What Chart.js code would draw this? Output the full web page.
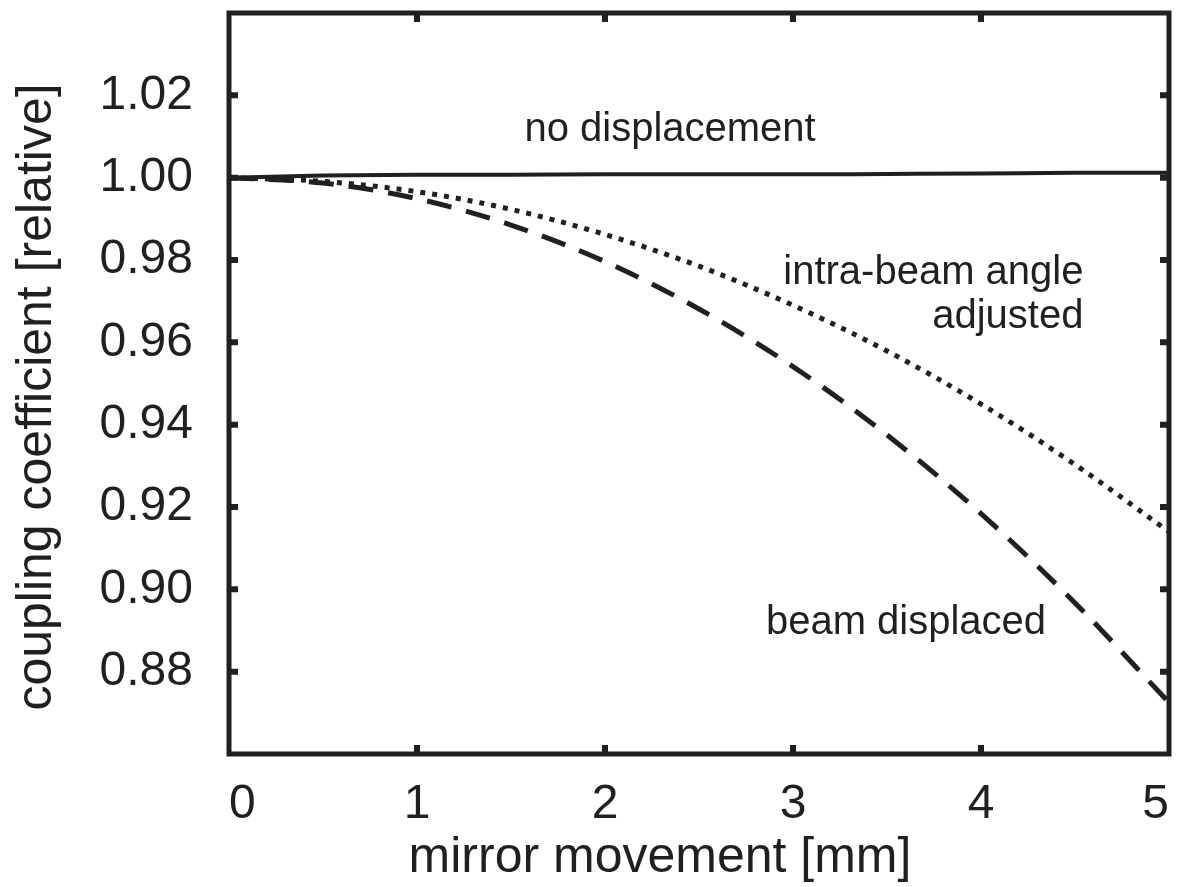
<!DOCTYPE html>
<html>
<head>
<meta charset="utf-8">
<script src="https://cdn.jsdelivr.net/npm/chart.js@4.4.1/dist/chart.umd.min.js"></script>
<style>
  html, body { margin: 0; padding: 0; background: #ffffff; }
  #wrap { width: 1178px; height: 887px; }
</style>
</head>
<body>
<div id="wrap"><canvas id="c" width="1178" height="887"></canvas></div>
<script>
// ---- data ----
const mirrorMovement   = [0, 0.5, 1, 1.5, 2, 2.5, 3, 3.5, 4, 4.5, 5];
const noDisplacement   = [1.0000, 1.0005, 1.0007, 1.0007, 1.0008, 1.0008, 1.0008, 1.0009, 1.0010, 1.0012, 1.0012];
const angleAdjusted    = [1.0000, 0.9991, 0.9966, 0.9923, 0.9862, 0.9785, 0.9690, 0.9579, 0.9450, 0.9303, 0.9140];
const beamDisplaced    = [1.0000, 0.9987, 0.9949, 0.9885, 0.9796, 0.9681, 0.9541, 0.9375, 0.9184, 0.8967, 0.8725];
const yTickLabels      = ['0.88', '0.90', '0.92', '0.94', '0.96', '0.98', '1.00', '1.02'];
const xTickLabels      = ['0', '1', '2', '3', '4', '5'];
const seriesNames      = ['no displacement', 'intra-beam angle adjusted', 'beam displaced'];
const xTitle = 'mirror movement [mm]';
const yTitle = 'coupling coefficient [relative]';

const INK = '#231f20';
const FONT = '"Liberation Sans", Arial, Helvetica, sans-serif';

const toPts = ys => mirrorMovement.map((x, i) => ({ x: x, y: ys[i] }));

const zeroPad = s => { s.paddingTop = 0; s.paddingBottom = 0; s.paddingLeft = 0; s.paddingRight = 0; };

const framePlugin = {
  id: 'frameAndTicks',
  afterDatasetsDraw(chart) {
    const ctx = chart.ctx;
    const a = chart.chartArea;
    const xs = chart.scales.x, ys = chart.scales.y;
    ctx.save();
    ctx.strokeStyle = INK;
    ctx.lineWidth = 5;
    ctx.lineCap = 'butt';
    ctx.strokeRect(a.left, a.top, a.right - a.left, a.bottom - a.top);
    ctx.lineWidth = 6;
    const L = 9;
    xs.ticks.forEach(t => {
      if (t.value <= 0 || t.value >= 5) return;
      const px = xs.getPixelForValue(t.value);
      ctx.beginPath();
      ctx.moveTo(px, a.bottom); ctx.lineTo(px, a.bottom - L);
      ctx.moveTo(px, a.top); ctx.lineTo(px, a.top + L);
      ctx.stroke();
    });
    ys.ticks.forEach(t => {
      const lab = t.value.toFixed(2);
      if (!yTickLabels.includes(lab)) return;
      const py = ys.getPixelForValue(t.value);
      ctx.beginPath();
      ctx.moveTo(a.left, py); ctx.lineTo(a.left + L, py);
      ctx.moveTo(a.right, py); ctx.lineTo(a.right - L, py);
      ctx.stroke();
    });
    ctx.restore();
  },
  afterDraw(chart) {
    const ctx = chart.ctx;
    const xs = chart.scales.x, ys = chart.scales.y;
    ctx.save();
    ctx.fillStyle = INK;
    ctx.textBaseline = 'alphabetic';
    // curve labels, anchored in data coordinates
    ctx.font = '40px ' + FONT;
    ctx.textAlign = 'center';
    ctx.fillText(seriesNames[0], xs.getPixelForValue(2.346), ys.getPixelForValue(1.0089));
    ctx.textAlign = 'right';
    ctx.fillText('intra-beam angle', xs.getPixelForValue(4.545), ys.getPixelForValue(0.9741));
    ctx.fillText('adjusted', xs.getPixelForValue(4.545), ys.getPixelForValue(0.9634));
    ctx.textAlign = 'center';
    ctx.fillText(seriesNames[2], xs.getPixelForValue(3.601), ys.getPixelForValue(0.8891));
    // axis titles
    ctx.font = '50px ' + FONT;
    ctx.textAlign = 'center';
    ctx.fillText(xTitle, 660, 872);
    ctx.translate(51, 397);
    ctx.rotate(-Math.PI / 2);
    ctx.fillText(yTitle, 0, 0);
    ctx.restore();
  }
};

new Chart(document.getElementById('c'), {
  type: 'line',
  data: {
    datasets: [
      { label: seriesNames[0], data: toPts(noDisplacement), borderColor: INK, borderWidth: 4,
        pointRadius: 0, cubicInterpolationMode: 'monotone', fill: false },
      { label: seriesNames[1], data: toPts(angleAdjusted), borderColor: INK, borderWidth: 5,
        borderDash: [5, 7], borderCapStyle: 'butt', pointRadius: 0, cubicInterpolationMode: 'monotone', fill: false },
      { label: seriesNames[2], data: toPts(beamDisplaced), borderColor: INK, borderWidth: 5,
        borderDash: [25, 15], borderCapStyle: 'butt', pointRadius: 0, cubicInterpolationMode: 'monotone', fill: false }
    ]
  },
  options: {
    responsive: false,
    devicePixelRatio: 1,
    animation: false,
    layout: { padding: { top: 13, right: 9, left: 0, bottom: 0 } },
    plugins: { legend: { display: false }, tooltip: { enabled: false } },
    scales: {
      x: {
        type: 'linear', min: 0, max: 5,
        afterFit: s => { s.height = 133; zeroPad(s); },
        grid: { display: false, drawTicks: false },
        border: { display: false },
        ticks: {
          stepSize: 1, padding: 22, color: INK, align: 'inner',
          font: { family: FONT, size: 48 },
          callback: v => xTickLabels.includes(String(v)) ? String(v) : ''
        }
      },
      y: {
        type: 'linear', min: 0.86, max: 1.04,
        afterFit: s => { s.width = 229; zeroPad(s); },
        grid: { display: false, drawTicks: false },
        border: { display: false },
        ticks: {
          stepSize: 0.02, padding: 36, color: INK,
          font: { family: FONT, size: 48 },
          callback: v => { const s = Number(v).toFixed(2); return yTickLabels.includes(s) ? s : ''; }
        }
      }
    }
  },
  plugins: [framePlugin]
});
</script>
</body>
</html>
